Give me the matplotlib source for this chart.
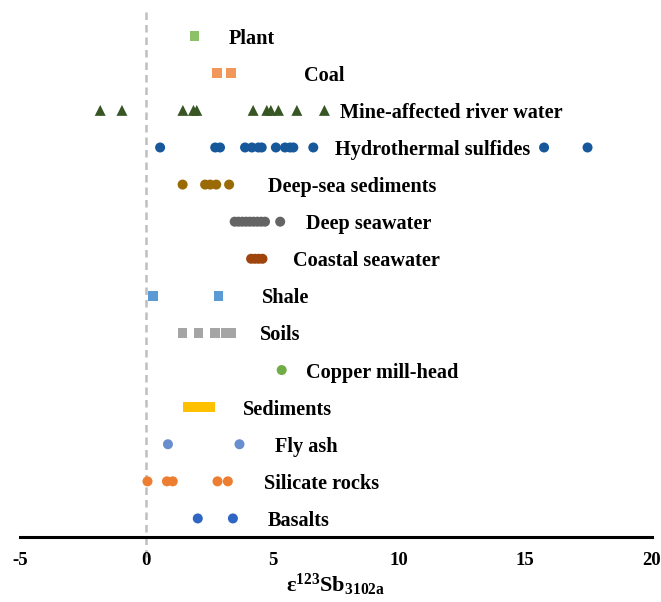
import matplotlib
matplotlib.use("Agg")
import matplotlib.pyplot as plt

plt.rcParams['font.family'] = ['Liberation Serif', 'DejaVu Serif']
plt.rcParams['mathtext.fontset'] = 'custom'
plt.rcParams['mathtext.rm'] = 'Liberation Serif'
plt.rcParams['mathtext.bf'] = 'Liberation Serif:bold'

# sample groups, listed top to bottom
groups = ["Plant", "Coal", "Mine-affected river water", "Hydrothermal sulfides",
          "Deep-sea sediments", "Deep seawater", "Coastal seawater", "Shale",
          "Soils", "Copper mill-head", "Sediments", "Fly ash",
          "Silicate rocks", "Basalts"]

plant = [1.91]
coal = [2.79, 3.36]
mine_water = [-1.82, -0.96, 1.45, 1.87, 2.00, 4.23, 4.77, 4.93, 5.23, 5.96, 7.05]
hydrothermal = [0.55, 2.73, 2.92, 3.91, 4.18, 4.44, 4.57, 5.13, 5.49, 5.69, 5.82,
                6.61, 15.74, 17.46]
deep_sea_sed = [1.44, 2.33, 2.53, 2.77, 3.28]
deep_seawater = [3.5, 3.65, 3.8, 3.95, 4.1, 4.25, 4.4, 4.55, 4.7, 5.3]
coastal = [4.15, 4.3, 4.45, 4.6]
shale = [0.26, 2.86]
soils = [1.44, 2.07, 2.73, 3.15, 3.35]
copper = [5.36]
sediments = [1.65, 1.8, 1.95, 2.1, 2.2, 2.25, 2.4, 2.55]
fly_ash = [0.86, 3.69]
silicate = [0.05, 0.82, 1.05, 2.82, 3.23]
basalts = [2.04, 3.43]

values = [plant, coal, mine_water, hydrothermal, deep_sea_sed, deep_seawater,
          coastal, shale, soils, copper, sediments, fly_ash, silicate, basalts]
colors = ['#8CC168', '#F1975A', '#375623', '#17589A', '#9A6A06', '#646464',
          '#A0440E', '#5B9BD5', '#A5A5A5', '#70AD47', '#FFC000', '#698ED0',
          '#ED7D31', '#2F66C4']
markers = ['s', 's', '^', 'o', 'o', 'o', 'o', 's', 's', 'o', 's', 'o', 'o', 'o']
sizes = {'s': 48, '^': 62, 'o': 52}
label_x = [3.28, 6.25, 7.65, 7.47, 4.82, 6.32, 5.81, 4.58, 4.5, 6.32, 3.83,
           5.1, 4.66, 4.82]

fig = plt.figure(figsize=(6.61, 6.02), dpi=100)
ax = fig.add_axes([0.030, 0.108, 0.956, 0.875])

n = len(groups)
for i in range(n):
    y = n - i
    ax.scatter(values[i], [y] * len(values[i]), marker=markers[i],
               s=sizes[markers[i]], color=colors[i], edgecolors='none',
               zorder=3)
    ax.text(label_x[i], y, groups[i], fontsize=14.6, fontweight='bold',
            va='center_baseline', ha='left')

# zero reference line, running down past the axis
ax.plot([0, 0], [-0.05, 14.7], ls=(0, (3, 2)), color='#BFBFBF', lw=1.8,
        clip_on=False, zorder=1)

ax.set_xlim(-5, 20)
ax.set_ylim(0.5, 14.7)
ax.set_xticks([-5, 0, 5, 10, 15, 20])
ax.set_xticklabels(['-5', '0', '5', '10', '15', '20'], fontsize=13.5,
                   fontweight='bold')
ax.tick_params(axis='x', length=0, pad=11)
ax.set_yticks([])
for side in ['top', 'right', 'left']:
    ax.spines[side].set_visible(False)
ax.spines['bottom'].set_linewidth(2.2)
ax.set_xlabel('$\\mathbf{\u03b5^{123}Sb_{3102a}}$', fontsize=16, labelpad=2)

fig.savefig('out.png', dpi=100)
